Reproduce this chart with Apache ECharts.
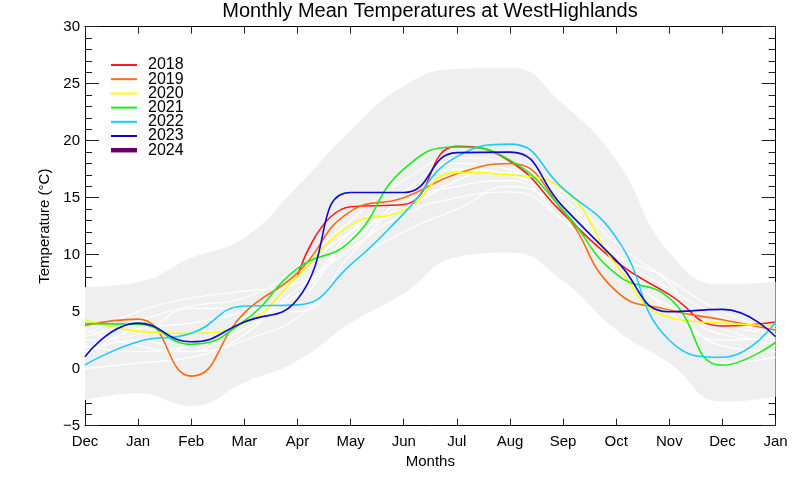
<!DOCTYPE html>
<html>
<head>
<meta charset="utf-8">
<script src="https://cdn.jsdelivr.net/npm/echarts@6/dist/echarts.min.js"></script>
<style>html,body{margin:0;padding:0;background:#fff}#c{width:800px;height:480px}</style>
</head>
<body>
<div id="c"></div>
<script>
// ---- Data ----
var monthLabels = ['Dec','Jan','Feb','Mar','Apr','May','Jun','Jul','Aug','Sep','Oct','Nov','Dec','Jan'];
var bandUpper = [7.15, 7.6, 9.7, 11.5, 16.0, 20.9, 24.8, 26.3, 26.4, 23.2, 18.3, 10.2, 7.4, 7.6];
var bandLower = [-2.75, -2.15, -3.25, -1.2, 0.7, 4.0, 6.6, 9.8, 10.2, 7.7, 3.4, 0.5, -2.9, -2.45];

var y2018 = [null, null, null, null, 8.1, 14.2, 14.4, 19.5, 18.2, 13.6, 9.4, 6.5, 3.75, 4.1];
var y2019 = [3.8, 4.35, -0.65, 4.9, 8.4, 13.8, 15.0, 17.1, 18.0, 13.8, 6.8, 5.15, 4.3, 3.4];
var y2020 = [4.3, 3.3, 3.1, 4.0, 8.1, 12.6, 13.9, 17.2, 17.0, 15.7, 9.1, 4.5, 4.0, 3.75];
var y2021 = [3.95, 3.9, 2.15, 4.2, 8.8, 11.2, 17.5, 19.45, 18.3, 13.9, 8.3, 6.2, 0.3, 2.3];
var y2022 = [0.33, 2.37, 3.1, 5.5, 5.6, 9.1, 13.6, 18.6, 19.7, 15.8, 11.5, 2.5, 1.0, 4.1];
var y2023 = [1.05, 4.0, 2.37, 4.1, 6.1, 15.45, 15.45, 18.95, 19.0, 14.2, 9.5, 5.0, 5.2, 2.8];
var y2024 = [null, null, null, null, null, null, null, null, null, null, null, null, null, null];

// other (earlier) years, drawn faint white
var w1 = [3.0, 5.0, 6.2, 6.8, 7.5, 11.0, 15.0, 17.5, 17.0, 14.0, 9.5, 6.5, 4.0, 3.0];
var w2 = [2.5, 3.0, 5.3, 5.3, 5.0, 10.0, 14.5, 16.0, 16.5, 13.0, 9.0, 6.0, 3.0, 2.5];
var w3 = [0.0, 0.5, 1.0, 2.5, 4.5, 9.0, 12.0, 14.0, 16.0, 14.0, 10.0, 6.0, 2.0, 1.5];
var w4 = [3.5, 2.0, 1.5, 3.0, 8.0, 12.0, 14.0, 16.5, 18.0, 15.0, 10.0, 7.0, 4.5, 3.0];
var w5 = [2.0, 1.5, 2.0, 3.5, 7.0, 10.5, 13.5, 15.0, 15.5, 13.0, 8.5, 5.5, 3.5, 2.0];
var w6 = [1.0, 3.5, 4.0, 5.0, 6.5, 12.0, 15.5, 18.0, 17.5, 14.5, 10.0, 7.5, 0.5, 1.0];
var w7 = [2.8, 4.2, 5.5, 6.2, 9.0, 13.0, 16.5, 18.5, 18.0, 15.5, 11.0, 7.8, 5.0, 3.5];
var w8 = [1.5, 2.5, 1.5, 4.5, 6.0, 11.5, 14.0, 17.0, 17.2, 14.0, 9.8, 5.0, 2.5, 2.8];
var whiteYears = [w1, w2, w3, w4, w5, w6, w7, w8];

var yearNames = ['2018','2019','2020','2021','2022','2023','2024'];
var yearData = [y2018, y2019, y2020, y2021, y2022, y2023, y2024];
var yearColors = ['#ff1a1a','#ff6a10','#ffff00','#1aee1a','#1accff','#0a0ad2','#660066'];

// ---- Chart ----
var FONT = 'Liberation Sans, Arial, Helvetica, sans-serif';
var chart = echarts.init(document.getElementById('c'), null, {renderer: 'canvas'});

var series = [];
series.push({
  name: 'bandLow', type: 'line', data: bandLower, stack: 'band', stackStrategy: 'all',
  smooth: 0.5, symbol: 'none', lineStyle: {width: 0, opacity: 0}, silent: true, z: 1
});
series.push({
  name: 'bandHigh', type: 'line',
  data: bandUpper.map(function (u, i) { return u - bandLower[i]; }),
  stack: 'band', stackStrategy: 'all',
  smooth: 0.5, symbol: 'none', lineStyle: {width: 0, opacity: 0},
  areaStyle: {color: '#efefef', opacity: 1}, silent: true, z: 1
});
whiteYears.forEach(function (w, i) {
  series.push({
    name: 'w' + i, type: 'line', data: w, smooth: 0.5, symbol: 'none',
    lineStyle: {color: '#ffffff', width: 1.2}, silent: true, z: 2
  });
});
yearNames.forEach(function (n, i) {
  series.push({
    name: n, type: 'line', data: yearData[i], smooth: 0.5, symbol: 'none',
    connectNulls: false,
    lineStyle: {color: yearColors[i], width: n === '2024' ? 4 : 1.6},
    itemStyle: {color: yearColors[i]}, z: 3
  });
});

var legendData = yearNames.map(function (n) {
  return {name: n, icon: n === '2024' ? 'path://M0,0H26V4.5H0Z' : 'path://M0,0H26V2H0Z'};
});

var yAxisCommon = {
  type: 'value', min: -5, max: 30, interval: 5,
  axisLine: {show: true, lineStyle: {color: '#000', width: 1}},
  axisTick: {show: true, inside: true, length: 14, lineStyle: {color: '#222', width: 1}},
  minorTick: {show: true, splitNumber: 5, length: 7, lineStyle: {color: '#222', width: 1}},
  splitLine: {show: false}
};
var xAxisCommon = {
  type: 'category', data: monthLabels, boundaryGap: false,
  axisLine: {show: true, onZero: false, lineStyle: {color: '#000', width: 1}},
  axisTick: {show: true, inside: true, length: 7, interval: 0, lineStyle: {color: '#222', width: 1}},
  splitLine: {show: false}
};

chart.setOption({
  backgroundColor: '#ffffff',
  animation: false,
  title: {
    text: 'Monthly Mean Temperatures at WestHighlands',
    left: 430, top: 1, textAlign: 'center', padding: 0,
    textStyle: {fontFamily: FONT, fontSize: 20, fontWeight: 'normal', color: '#000'}
  },
  legend: {
    data: legendData, orient: 'vertical', left: 111, top: 57,
    itemWidth: 26, itemHeight: 10, itemGap: -1.8, padding: 0, symbolKeepAspect: true,
    textStyle: {fontFamily: FONT, fontSize: 16, color: '#000', padding: [0, 0, 0, 6]},
    selectedMode: false
  },
  grid: {left: 85, right: 24.4, top: 26.7, bottom: 54.3, containLabel: false},
  xAxis: [
    Object.assign({}, xAxisCommon, {
      position: 'bottom',
      axisLabel: {show: true, interval: 0, fontFamily: FONT, fontSize: 15, color: '#000', margin: 9},
      name: 'Months', nameLocation: 'middle', nameGap: 25,
      nameTextStyle: {fontFamily: FONT, fontSize: 15, color: '#000'}
    }),
    Object.assign({}, xAxisCommon, {position: 'top', axisLabel: {show: false}})
  ],
  yAxis: [
    Object.assign({}, yAxisCommon, {
      position: 'left',
      axisLabel: {show: true, fontFamily: FONT, fontSize: 15, color: '#000', margin: 5,
        formatter: function (v) { return String(v).replace('-', '\u2212'); }},
      name: 'Temperature (\u00B0C)', nameLocation: 'middle', nameGap: 33,
      nameTextStyle: {fontFamily: FONT, fontSize: 15, color: '#000'}
    }),
    Object.assign({}, yAxisCommon, {position: 'right', axisLabel: {show: false}})
  ],
  series: series
});
</script>
</body>
</html>
